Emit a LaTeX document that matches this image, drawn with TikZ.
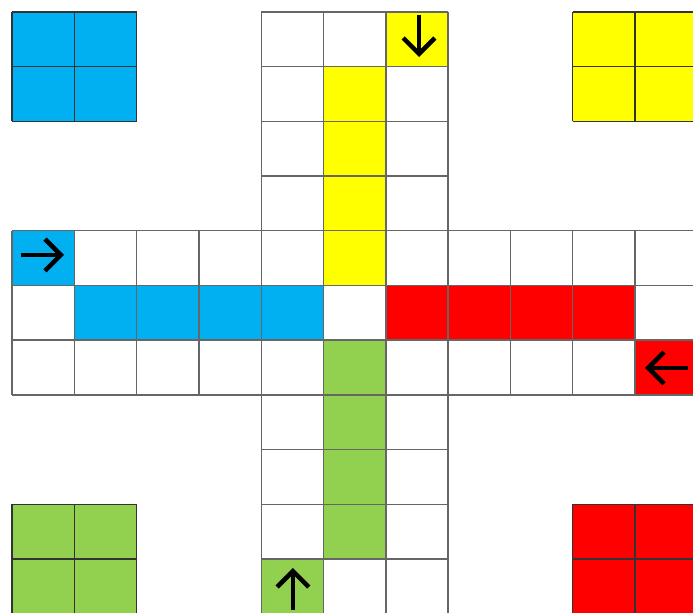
\documentclass[tikz,border=0pt]{standalone}
\usetikzlibrary{arrows.meta}
\definecolor{ludoblue}{HTML}{00B0F0}
\definecolor{ludogreen}{HTML}{92D050}
\definecolor{ludoyellow}{HTML}{FFFF00}
\definecolor{ludored}{HTML}{FF0000}
\begin{document}
\begin{tikzpicture}[x=1.246cm,y=-1.094cm,
    cellline/.style={draw=black!60,line width=0.8pt,xstep=1.246cm,ystep=1.094cm},
    homeline/.style={draw=black!80,line width=0.8pt,xstep=1.246cm,ystep=1.094cm},
    startarrow/.style={line width=2.6pt,-{Straight Barb[length=9pt,width=18pt]}}]
      \useasboundingbox (-0.193,-0.219) rectangle (10.931,10.987);
      \clip (-0.193,-0.219) rectangle (10.931,10.987);

      \fill[ludoblue] (0,0) rectangle (2,2);
      \fill[ludoyellow] (9,0) rectangle (11,2);
      \fill[ludogreen] (0,9) rectangle (2,11);
      \fill[ludored] (9,9) rectangle (11,11);

      \fill[ludoyellow] (6,0) rectangle (7,1);
      \fill[ludoyellow] (5,1) rectangle (6,5);
      \fill[ludoblue] (0,4) rectangle (1,5);
      \fill[ludoblue] (1,5) rectangle (5,6);
      \fill[ludored] (6,5) rectangle (10,6);
      \fill[ludored] (10,6) rectangle (11,7);
      \fill[ludogreen] (5,6) rectangle (6,10);
      \fill[ludogreen] (4,10) rectangle (5,11);

      \draw[cellline] (4,0) grid (7,11);
      \draw[cellline] (0,4) grid (11,7);

      \draw[homeline] (0,0) grid (2,2);
      \draw[homeline] (9,0) grid (11,2);
      \draw[homeline] (0,9) grid (2,11);
      \draw[homeline] (9,9) grid (11,11);

      \coordinate (Y0) at (6.533,0.055);
      \coordinate (Y1) at (6.533,0.823);
      \coordinate (B0) at (0.144,4.442);
      \coordinate (B1) at (0.835,4.442);
      \coordinate (R0) at (10.851,6.508);
      \coordinate (R1) at (10.161,6.508);
      \coordinate (G0) at (4.510,10.932);
      \coordinate (G1) at (4.510,10.165);

      \draw[startarrow] (Y0) -- (Y1);
      \draw[startarrow] (B0) -- (B1);
      \draw[startarrow] (R0) -- (R1);
      \draw[startarrow] (G0) -- (G1);
    \end{tikzpicture}
\end{document}
